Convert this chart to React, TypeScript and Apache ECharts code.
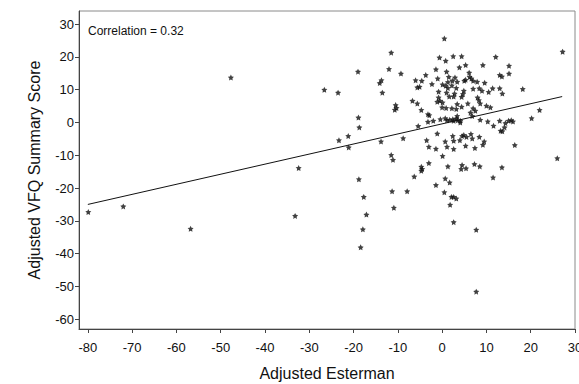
import React, { useEffect, useRef } from "react";
import * as echarts from "echarts";

// Adjusted Esterman score vs adjusted VFQ summary score, one entry per subject
const esterman: number[] = [
  0.5, -11.5, 27.2, 2.5, 4.4, -0.6, 0.8, 12.1, 9.2, 5.3, 3.9, -1.4, 15.1, 15.1, -12.0, -19.0,
  -9.3, 1.0, 6.1, 13.0, 13.5, -3.7, -6.0, -4.6, -1.0, 1.5, 2.9, 6.2, 6.6, 5.3, 5.0, 7.0,
  7.9, 9.6, -13.7, -14.1, 0.1, 0.8, 1.3, 2.3, 2.2, 3.4, -2.3, -5.6, -5.1, 1.3, -26.6, -23.5,
  -13.5, 3.2, 7.0, 8.4, 9.0, 10.5, 11.4, 13.0, 13.6, 18.2, 4.9, 4.7, 2.6, 1.6, -0.8, 1.0,
  2.8, 4.4, -0.8, -0.5, -1.1, 0.1, 8.0, 8.3, 8.6, 5.8, 3.4, 4.4, -6.7, -5.6, -10.5, -10.3,
  -10.7, 10.0, 10.9, 0.0, 0.9, 2.2, 3.2, -4.7, 7.0, 7.5, 6.4, 6.8, 22.0, -18.9, -3.2, -2.9,
  3.4, 3.2, 3.5, 0.7, 1.1, 1.7, 2.4, 2.6, 4.1, -2.0, -3.2, -0.4, 4.1, 8.6, 10.3, 11.6,
  13.0, 14.3, 15.0, 15.6, 16.0, 20.2, 13.2, 13.6, 14.1, -18.7, -5.4, -21.2, -23.3, -21.1, -13.8, -8.8,
  -1.1, 2.4, 4.9, 4.5, 6.5, 8.4, 9.5, 9.2, -3.5, 0.7, 2.6, 4.0, 5.5, 6.8, -3.0, -1.4,
  1.1, 2.6, 5.3, 7.4, 16.4, 0.1, -11.5, -11.1, 26.0, -32.4, -4.7, -4.5, -4.7, -3.0, 1.3, 4.5,
  4.3, 5.4, 7.3, 8.5, 13.5, -6.3, -18.8, 0.7, 1.7, -1.4, 11.5, -11.3, -7.9, 0.5, -17.7, 2.1,
  2.6, 3.2, -10.9, 1.8, -17.1, -33.2, -17.9, 2.6, 7.7, -18.4, 7.7, -47.7, -79.9, -72.0, -56.8,
];
const vfq: number[] = [
  25.6, 21.3, 21.6, 20.2, 20.2, 19.8, 18.8, 20.0, 17.5, 17.5, 16.8, 16.2, 17.3, 14.9, 16.3, 15.5,
  14.9, 15.5, 15.2, 14.5, 14.0, 14.5, 12.9, 12.7, 13.4, 13.9, 13.7, 13.9, 13.4, 13.0, 12.7, 12.7,
  12.4, 12.1, 12.9, 12.0, 11.6, 11.2, 12.3, 12.7, 11.3, 12.4, 11.7, 10.7, 10.9, 10.5, 10.0, 9.1,
  9.1, 10.5, 10.3, 10.4, 9.7, 9.3, 10.4, 10.4, 8.8, 10.2, 9.7, 8.7, 7.9, 7.9, 9.4, 9.1,
  8.8, 7.8, 7.6, 6.6, 6.3, 6.1, 7.6, 6.8, 5.8, 5.8, 5.6, 4.8, 6.6, 5.8, 5.3, 4.4,
  3.9, 5.1, 4.6, 4.6, 4.4, 4.3, 4.1, 3.8, 4.3, 3.6, 3.0, 2.0, 3.8, 1.5, 2.5, 2.2,
  2.0, 1.2, 0.7, 1.3, 0.7, 0.8, 1.0, 0.5, 0.5, 0.5, 0.2, 1.0, 0.0, 0.8, 0.3, -1.0,
  0.5, -0.2, 0.5, 0.7, 0.3, 1.3, -2.5, -2.7, -1.5, -1.5, -1.1, -4.1, -5.4, -7.6, -5.8, -4.8,
  -3.4, -4.1, -3.8, -4.1, -3.5, -4.4, -5.8, -6.8, -5.4, -5.8, -5.6, -5.4, -4.4, -4.9, -7.4, -8.0,
  -7.4, -8.1, -7.1, -7.8, -6.9, -10.2, -9.9, -11.4, -10.9, -13.9, -13.5, -14.2, -14.7, -12.4, -13.4, -13.0,
  -14.2, -14.0, -12.7, -13.4, -13.7, -16.5, -17.3, -17.1, -18.3, -19.1, -16.8, -21.0, -21.0, -21.3, -22.7, -22.7,
  -22.7, -23.2, -26.0, -25.1, -28.1, -28.5, -32.6, -30.4, -32.7, -38.1, -51.6, 13.7, -27.3, -25.6, -32.4,
];

// Fitted regression line end points
const fitX: number[] = [-80, 27.1];
const fitY: number[] = [-25, 7.9];

const xTicks: number[] = [-80, -70, -60, -50, -40, -30, -20, -10, 0, 10, 20, 30];
const yTicks: number[] = [-60, -50, -40, -30, -20, -10, 0, 10, 20, 30];

const correlationText = "Correlation = 0.32";

const STAR =
  "path://M0,-10L2.94,-4.05L9.51,-3.09L4.76,1.55L5.88,8.09L0,5L-5.88,8.09L-4.76,1.55L-9.51,-3.09L-2.94,-4.05Z";

const FONT = "'Liberation Sans', Arial, Helvetica, sans-serif";

export default function App() {
  const ref = useRef<HTMLDivElement>(null);

  useEffect(() => {
    document.body.style.margin = "0";
    if (!ref.current) return;
    const chart = echarts.init(ref.current, undefined, { renderer: "svg" });

    const points = esterman.map((x, i) => [x, vfq[i]]);
    const fit = fitX.map((x, i) => [x, fitY[i]]);

    chart.setOption({
      animation: false,
      backgroundColor: "#ffffff",
      grid: {
        left: 79,
        right: 4,
        top: 11,
        bottom: 55,
        containLabel: false,
        outerBoundsMode: "none",
        show: true,
        borderColor: "#8a8a8a",
        borderWidth: 1,
      },
      xAxis: {
        type: "value",
        min: -82,
        max: 30,
        name: "Adjusted Esterman",
        nameLocation: "middle",
        nameGap: 36,
        nameTextStyle: { fontFamily: FONT, fontSize: 16, color: "#111" },
        axisLine: { show: true, onZero: false, lineStyle: { color: "#444", width: 1 } },
        axisTick: { show: true, inside: false, length: 4, customValues: xTicks, lineStyle: { color: "#444" } },
        axisLabel: {
          customValues: xTicks,
          margin: 12,
          fontFamily: FONT,
          fontSize: 13,
          color: "#111",
          showMinLabel: true,
          showMaxLabel: true,
        },
        splitLine: { show: false },
      },
      yAxis: {
        type: "value",
        min: -63,
        max: 34,
        name: "Adjusted VFQ Summary Score",
        nameLocation: "middle",
        nameGap: 37,
        nameTextStyle: { fontFamily: FONT, fontSize: 16, color: "#111" },
        axisLine: { show: true, onZero: false, lineStyle: { color: "#444", width: 1 } },
        axisTick: { show: true, inside: false, length: 4, customValues: yTicks, lineStyle: { color: "#444" } },
        axisLabel: {
          customValues: yTicks,
          margin: 5,
          fontFamily: FONT,
          fontSize: 13,
          color: "#111",
          showMinLabel: true,
          showMaxLabel: true,
        },
        splitLine: { show: false },
      },
      graphic: [
        {
          type: "text",
          left: 88,
          top: 25,
          style: { text: correlationText, font: `12px ${FONT}`, fill: "#111" },
        },
      ],
      series: [
        {
          type: "line",
          data: fit,
          symbol: "none",
          lineStyle: { color: "#111", width: 1 },
          silent: true,
          z: 2,
        },
        {
          type: "scatter",
          data: points,
          symbol: STAR,
          symbolSize: 6,
          itemStyle: { color: "#111" },
          z: 3,
        },
      ],
    });

    return () => chart.dispose();
  }, []);

  return <div ref={ref} style={{ width: 579, height: 384 }} />;
}
